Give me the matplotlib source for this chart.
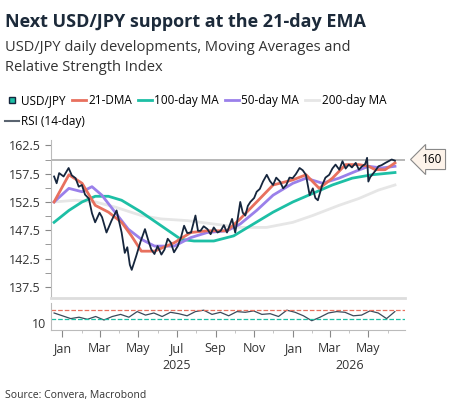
import matplotlib
matplotlib.use("Agg")
import matplotlib.pyplot as plt
import matplotlib.dates as mdates
import pandas as pd
import numpy as np

plt.rcParams['font.family'] = ['Open Sans', 'DejaVu Sans']

px_dates = ["2024-12-19","2024-12-23","2024-12-27","2025-01-03","2025-01-11","2025-01-16","2025-01-22","2025-01-27","2025-02-01","2025-02-06","2025-02-12","2025-02-17","2025-02-22","2025-03-01","2025-03-05","2025-03-12","2025-03-20","2025-03-28","2025-04-05","2025-04-10","2025-04-14","2025-04-18","2025-04-21","2025-04-28","2025-05-05","2025-05-12","2025-05-17","2025-05-22","2025-05-27","2025-06-01","2025-06-07","2025-06-12","2025-06-17","2025-06-22","2025-06-27","2025-07-03","2025-07-08","2025-07-13","2025-07-18","2025-07-24","2025-07-31","2025-08-04","2025-08-08","2025-08-13","2025-08-19","2025-08-24","2025-08-29","2025-09-04","2025-09-09","2025-09-14","2025-09-19","2025-09-27","2025-10-02","2025-10-06","2025-10-10","2025-10-14","2025-10-18","2025-10-22","2025-10-26","2025-11-01","2025-11-05","2025-11-10","2025-11-15","2025-11-21","2025-11-26","2025-12-01","2025-12-06","2025-12-12","2025-12-17","2025-12-22","2025-12-27","2026-01-01","2026-01-06","2026-01-12","2026-01-17","2026-01-22","2026-01-28","2026-02-02","2026-02-06","2026-02-10","2026-02-17","2026-02-22","2026-02-28","2026-03-05","2026-03-10","2026-03-16","2026-03-21","2026-03-26","2026-03-31","2026-04-05","2026-04-11","2026-04-16","2026-04-21","2026-04-26","2026-04-29","2026-05-01","2026-05-04","2026-05-07","2026-05-12","2026-05-17","2026-05-22","2026-05-28","2026-06-02","2026-06-07","2026-06-12"]
usdjpy = [157,155.8,157.6,157,158.5,157.2,156.7,155.2,155.5,153.8,153.1,150.5,148.9,150.6,149.8,147.1,149.2,151,147.1,143.5,144.5,141.4,140.5,142.9,145.5,147.7,145.8,144.1,143.3,144.7,143.2,144.1,146,145.3,143.6,144.7,146.2,148.3,147,147.1,150.1,147.4,147.4,148.2,147.7,146.8,148,147.1,147.4,148.4,147.1,149.5,147.1,149.6,152.5,150.6,150.1,151.8,152.5,153.2,154.3,154.8,156.1,157.3,156.2,155.5,156.8,156.1,154.9,155.5,156.8,156.7,157.4,158.5,158.1,157.3,153.7,154.9,153.2,152.8,155.5,156.8,157.3,158.4,159.1,158.2,159.7,158.4,159.1,158.6,159.4,158.2,158.8,159.2,160.3,156.1,156.9,157.3,158.0,158.8,159.0,159.4,159.7,160,159.8]

def zx_dates(zs):
    return [pd.Timestamp("2025-01-01") + pd.Timedelta(days=(z - 60) * 0.522) for z in zs]

dma21_x = [35,80,120,160,200,240,270,300,340,400,450,500,560,600,650,700,760,800,840,880,920,960,990,1010,1040,1070]
dma21 = [152.5,157.3,155.8,151.9,150.7,148.9,146.5,143.8,143.8,145.3,147.1,147.4,147.4,149.5,152.5,155.5,156.4,157.3,154.9,156.7,159.1,159.1,158.8,158.2,158.2,159.4]
ma50_x = [35,80,120,150,180,220,260,300,340,400,450,500,560,600,650,700,760,800,850,900,950,990,1030,1070]
ma50 = [152.5,154.9,154.3,155.2,153.7,150.7,147.7,145.9,144.7,144.7,146.2,147.1,147.4,148.6,151,153.7,155.8,156.7,155.8,156.7,157.9,158.8,158.5,158.8]
ma100_x = [35,80,120,160,200,240,300,360,420,460,520,580,640,700,760,820,880,940,1000,1070]
ma100 = [148.9,151,152.5,153.5,153.5,152.8,150.7,148.3,145.9,145.6,145.6,146.5,148.6,150.7,152.5,154,155.5,156.7,157.3,157.7]
ma200_x = [35,100,160,220,300,360,440,520,600,680,760,820,900,960,1020,1070]
ma200 = [152.5,152.8,152.5,151.6,150.1,149.5,149.2,148.6,148,148,148.9,150.1,151.9,153.1,154.6,155.5]
rsi = [11.4,11.0,10.6,10.8,10.5,10.9,10.4,10.9,11.2,10.8,11.6,11.1,11.4,10.9,11.5,11.3,11.0,11.6,11.8,11.2,11.5,11.0,11.6,11.5,11.7,11.2,11.3,10.9,11.8,11.5,11.0,10.3,10.8,11.4,11.6,11.5,11.0,11.1,11.7,11.4,10.6,11.6]

x_px = pd.to_datetime(px_dates)

fig = plt.figure(figsize=(4.55, 4.17), dpi=100)
ax = fig.add_axes([0.112, 0.285, 0.778, 0.38])
ax2 = fig.add_axes([0.112, 0.209, 0.778, 0.064])

ax.plot(zx_dates(ma200_x), ma200, color='#e6e6e6', lw=2)
ax.plot(zx_dates(ma100_x), ma100, color='#1dbfa5', lw=2)
ax.plot(zx_dates(ma50_x), ma50, color='#9a80ea', lw=2)
ax.plot(zx_dates(dma21_x), dma21, color='#e8705e', lw=2)
ax.plot(x_px, usdjpy, color='#16263d', lw=1.3)
ax.axhline(160, color='#aaaaaa', lw=1.2, zorder=0)

xmin, xmax = pd.Timestamp("2024-12-14"), pd.Timestamp("2026-06-28")
ax.set_xlim(xmin, xmax)
ax.set_ylim(135.5, 163.5)
ax.set_yticks([137.5,142.5,147.5,152.5,157.5,162.5])
ax.set_yticks([140,145,150,155,160], minor=True)
ax.set_xticks([])
for s in ['top', 'right']:
    ax.spines[s].set_visible(False)
ax.spines['left'].set_color('#bbbbbb')
ax.spines['bottom'].set_color('#dddddd')
ax.spines['bottom'].set_linewidth(2)
ax.tick_params(axis='y', which='both', length=4, color='#888888', labelsize=9, colors='#333333')
ax.tick_params(axis='y', which='minor', labelleft=False)
ax.annotate('160', xy=(1.0, 160), xycoords=('axes fraction', 'data'), xytext=(12, 0), textcoords='offset points',
            va='center', ha='left', fontsize=8.5,
            bbox=dict(boxstyle='larrow,pad=0.3', fc='#fdf3ea', ec='#888888', lw=0.8))

rsi_x = pd.date_range("2024-12-19", "2026-06-12", periods=len(rsi))
ax2.plot(rsi_x, rsi, color='#3a4a5a', lw=0.9)
ax2.axhline(11.8, color='#e8705e', lw=0.9, ls='--')
ax2.axhline(10.5, color='#1dbfa5', lw=0.9, ls='--')
ax2.set_xlim(xmin, xmax)
ax2.set_ylim(9.0, 12.8)
ax2.set_yticks([10])
ax2.tick_params(axis='y', length=0, labelsize=9, colors='#333333')
for s in ['top', 'right']:
    ax2.spines[s].set_visible(False)
ax2.spines['left'].set_color('#bbbbbb')
ax2.spines['bottom'].set_color('#bbbbbb')
ax2.xaxis.set_major_locator(mdates.MonthLocator(bymonth=[1,3,5,7,9,11]))
ax2.xaxis.set_major_formatter(mdates.DateFormatter('%b'))
ax2.xaxis.set_minor_locator(mdates.MonthLocator())
ax2.tick_params(axis='x', which='major', length=5, color='#888888', labelsize=9, colors='#333333')
ax2.tick_params(axis='x', which='minor', length=2, color='#bbbbbb')
ax2.text(pd.Timestamp("2025-07-01"), -1.1, '2025', transform=ax2.get_xaxis_transform(), ha='center', va='top', fontsize=9, color='#333333')
ax2.text(pd.Timestamp("2026-04-01"), -1.1, '2026', transform=ax2.get_xaxis_transform(), ha='center', va='top', fontsize=9, color='#333333')

fig.text(0.012, 0.97, 'Next USD/JPY support at the 21-day EMA', fontsize=13, fontweight='bold', color='#1c2a3a', va='top')
fig.text(0.012, 0.905, 'USD/JPY daily developments, Moving Averages and\nRelative Strength Index', fontsize=10.5, color='#333333', linespacing=1.45, va='top')
fig.text(0.012, 0.045, 'Source: Convera, Macrobond', fontsize=7.5, color='#333333')

from matplotlib.lines import Line2D
hs = [Line2D([], [], color='#16263d', marker='s', mfc='#1dbfa5', ms=5, lw=0),
      Line2D([], [], color='#e8705e', lw=2), Line2D([], [], color='#1dbfa5', lw=2),
      Line2D([], [], color='#9a80ea', lw=2), Line2D([], [], color='#e6e6e6', lw=2)]
fig.legend(hs, ['USD/JPY', '21-DMA', '100-day MA', '50-day MA', '200-day MA'], loc='upper left',
           bbox_to_anchor=(0.0, 0.785), ncol=5, frameon=False, fontsize=8.5, handlelength=1.2,
           handletextpad=0.2, columnspacing=0.5, borderaxespad=0)
fig.legend([Line2D([], [], color='#5a6470', lw=1.5)], ['RSI (14-day)'], loc='upper left',
           bbox_to_anchor=(0.0, 0.735), frameon=False, fontsize=8.5, handlelength=1.2, handletextpad=0.2, borderaxespad=0)

fig.savefig('out.png', dpi=100, facecolor='white')
